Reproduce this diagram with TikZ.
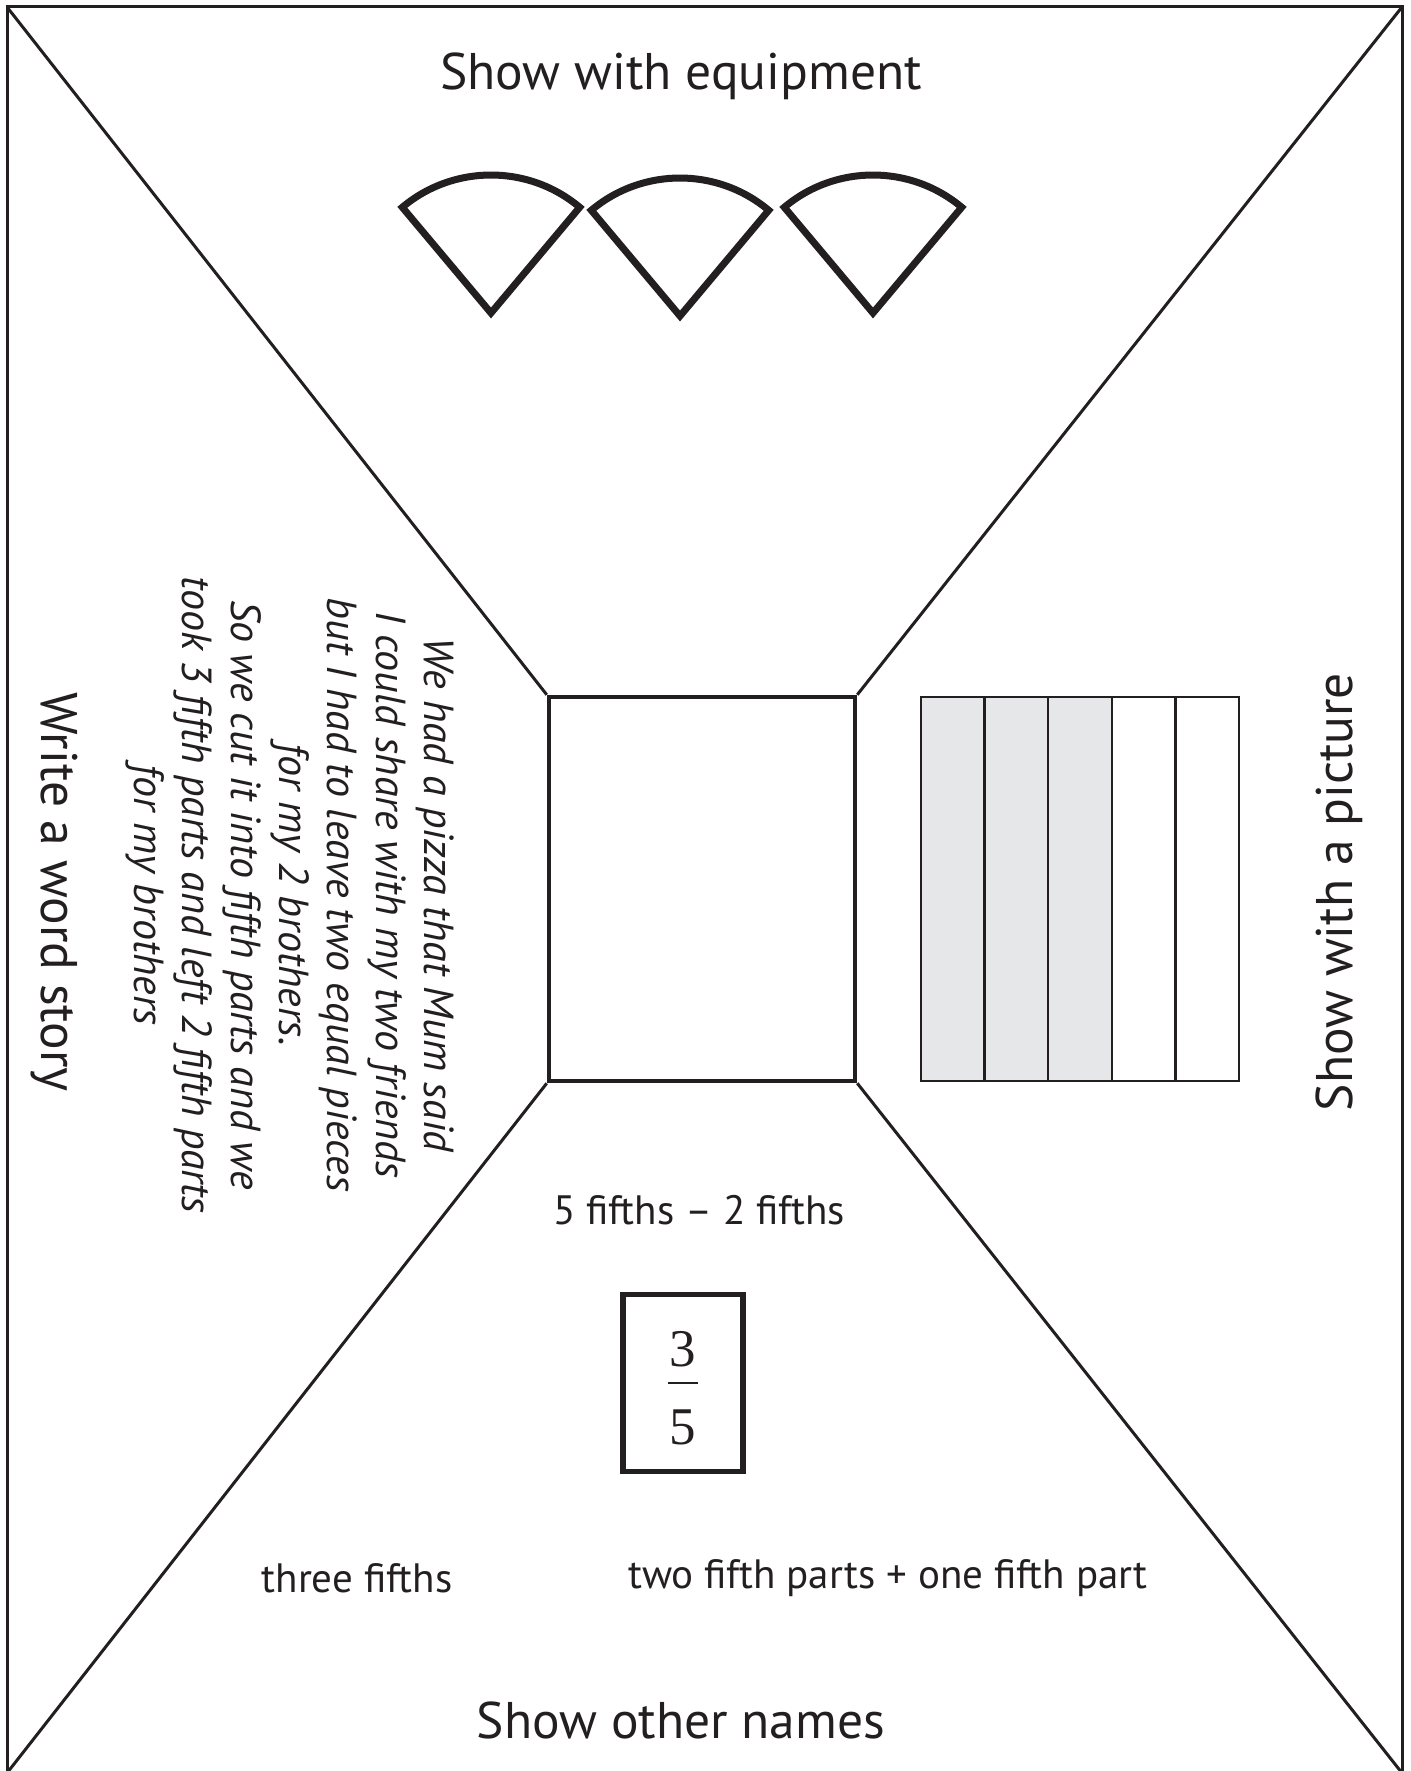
\documentclass[tikz,border=0pt]{standalone}
\usepackage{fontspec}
\setmainfont{PT Sans}
\newfontfamily\digitfont{Liberation Serif}
\usetikzlibrary{positioning}
\definecolor{ink}{HTML}{231F20}
\definecolor{partgray}{HTML}{E6E7E8}
\newcommand{\headsize}{\fontsize{51.5}{60}\selectfont}
\newcommand{\bodysize}{\fontsize{41}{48}\selectfont}
\newcommand{\storysize}{\fontsize{42}{48.4}\selectfont}

\tikzset{
  frameline/.style={draw=ink, line width=3pt},
  centrebox/.style={draw=ink, line width=4.5pt, fill=white, minimum width=306pt, minimum height=384pt, inner sep=0pt},
  stripcell/.style={draw=ink, line width=2.5pt, minimum width=63.6pt, minimum height=384pt, inner sep=0pt},
  wedge/.style={draw=ink, line width=7pt, line join=miter},
  heading/.style={text=ink, font=\headsize, inner sep=0pt},
  label/.style={text=ink, font=\bodysize, inner sep=0pt},
  fracbox/.style={draw=ink, line width=5.5pt, minimum width=120pt, minimum height=177pt, inner sep=0pt},
  digit/.style={text=ink, font=\digitfont\fontsize{53}{60}\selectfont, inner sep=0pt}
}

\begin{document}
\begin{tikzpicture}[x=1pt,y=-1pt]
\useasboundingbox (0,0) rectangle (1410,1771);
\fill[white] (0,0) rectangle (1410,1771);

% outer frame
\coordinate (tl) at (7,7);
\coordinate (tr) at (1402,7);
\coordinate (bl) at (7,1773);
\coordinate (br) at (1402,1773);
\draw[frameline] (tl) rectangle (br);

% middle box and the four diagonals
\node[centrebox] (mid) at (702,889) {};
\draw[frameline] (tl) -- (mid.north west);
\draw[frameline] (tr) -- (mid.north east);
\draw[frameline] (bl) -- (mid.south west);
\draw[frameline] (br) -- (mid.south east);

% top: equipment
\node[heading] (equip) at (681,76) {Show with equipment};
\foreach \x/\y in {491/313, 680/316, 873/313}
  \draw[wedge] (\x,\y) -- ++(230:138) arc[start angle=230, end angle=310, radius=138] -- cycle;

% right: picture
\foreach \i/\col in {1/partgray, 2/partgray, 3/partgray, 4/white, 5/white}
  \node[stripcell, fill=\col] (cell\i) at (921+63.6*\i-31.8, 889) {};
\node[heading, rotate=90] (picture) at (1339,892) {Show with a picture};

% left: word story
\node[heading, rotate=-90] (story) at (54,892) {Write a word story};
\node[text=ink, font=\storysize\itshape, align=center, rotate=-90, inner sep=0pt] (words) at (290,895)
  {We had a pizza that Mum said\\
   I could share with my two friends\\
   but I had to leave two equal pieces\\
   for my 2 brothers.\\
   So we cut it into fifth parts and we\\
   took 3 fifth parts and left 2 fifth parts\\
   for my brothers};

% bottom: other names
\node[label] (minus) at (699,1210) {5 fifths -- 2 fifths};
\node[fracbox] (frac) at (683,1383) {};
\node[digit] (three) at (683,1349) {3};
\node[digit] (five) at (683,1427) {5};
\draw[ink, line width=2pt] ([xshift=-15pt]frac.center) -- ([xshift=15pt]frac.center);
\node[label] (words3) at (357,1578) {three fifths};
\node[label] (sum) at (888,1578) {two fifth parts + one fifth part};
\node[heading] (names) at (681,1720) {Show other names};
\end{tikzpicture}
\end{document}
